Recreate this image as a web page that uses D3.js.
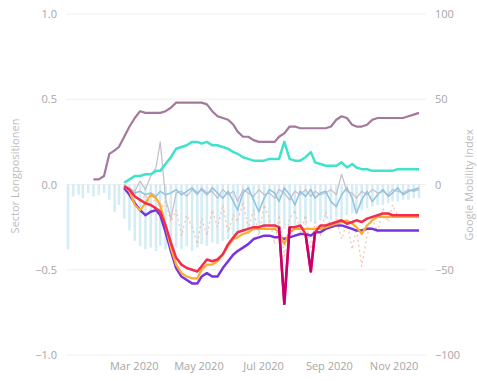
<!DOCTYPE html>
<html><head><meta charset="utf-8">
<script src="https://cdn.jsdelivr.net/npm/d3@7"></script>
<style>body{margin:0;background:#fff}svg{display:block}</style>
</head><body><svg id="c" width="477" height="381"></svg>
<script>
const dates = ["2019-12-30","2020-01-04","2020-01-09","2020-01-13","2020-01-18","2020-01-23","2020-01-28","2020-02-02","2020-02-07","2020-02-12",
"2020-02-16","2020-02-21","2020-02-26","2020-03-02","2020-03-07","2020-03-12","2020-03-17","2020-03-22","2020-03-26","2020-03-31",
"2020-04-05","2020-04-10","2020-04-15","2020-04-20","2020-04-25","2020-04-30","2020-05-04","2020-05-09","2020-05-14","2020-05-19",
"2020-05-24","2020-05-29","2020-06-03","2020-06-07","2020-06-12","2020-06-17","2020-06-22","2020-06-27","2020-07-02","2020-07-07",
"2020-07-12","2020-07-16","2020-07-21","2020-07-26","2020-07-31","2020-08-05","2020-08-10","2020-08-15","2020-08-19","2020-08-24",
"2020-08-29","2020-09-03","2020-09-08","2020-09-13","2020-09-18","2020-09-23","2020-09-27","2020-10-02","2020-10-07","2020-10-12",
"2020-10-17","2020-10-22","2020-10-27","2020-10-31","2020-11-05","2020-11-10","2020-11-15","2020-11-20","2020-11-25"];
const _ = null;
// left axis (sector long positions)
const barValues = [-0.38,-0.07,-0.06,-0.08,-0.05,-0.07,-0.06,-0.05,-0.09,-0.16,
-0.12,-0.2,-0.27,-0.33,-0.36,-0.38,-0.37,-0.39,-0.36,-0.38,
-0.4,-0.37,-0.38,-0.36,-0.39,-0.37,-0.35,-0.36,-0.34,-0.35,
-0.33,-0.32,-0.3,-0.3,-0.28,-0.29,-0.27,-0.28,-0.26,-0.25,
-0.27,-0.25,-0.26,-0.24,-0.25,-0.23,-0.24,-0.22,-0.23,-0.21,
-0.2,-0.21,-0.19,-0.2,-0.18,-0.17,-0.16,-0.15,-0.14,-0.13,
-0.12,-0.12,-0.11,-0.1,-0.1,-0.09,-0.09,-0.08,-0.08];
const steelValues = [_,_,_,_,_,_,_,_,_,_,
_,-0.01,-0.03,-0.05,-0.04,-0.06,-0.05,-0.07,-0.04,-0.06,
-0.05,-0.03,-0.06,-0.04,-0.02,-0.05,-0.03,-0.06,-0.02,-0.05,
-0.08,-0.04,-0.1,-0.15,-0.05,-0.02,-0.09,-0.16,-0.08,-0.03,
-0.05,-0.1,-0.02,-0.06,-0.12,-0.04,-0.07,-0.03,-0.08,-0.05,
-0.04,-0.1,-0.13,-0.06,-0.02,-0.08,-0.17,-0.09,-0.04,-0.1,
-0.06,-0.03,-0.07,-0.05,-0.02,-0.06,-0.04,-0.03,-0.02];
const greyValues = [_,_,_,_,_,_,_,_,_,_,
_,0.0,-0.02,-0.04,0.02,-0.03,0.05,0.1,0.25,-0.08,
-0.2,-0.05,-0.04,-0.07,-0.03,-0.06,-0.02,-0.05,-0.04,-0.08,
-0.03,-0.06,-0.04,-0.1,-0.03,-0.05,-0.07,-0.03,-0.06,-0.05,
-0.08,-0.03,-0.05,-0.09,-0.04,-0.06,-0.03,-0.07,-0.04,-0.06,
-0.05,-0.03,-0.06,0.06,-0.04,-0.05,-0.08,-0.04,-0.06,-0.03,
-0.05,-0.04,-0.06,-0.03,-0.04,-0.05,-0.03,-0.04,-0.03];
const paleOrangeValues = [_,_,_,_,_,_,_,_,_,_,
_,_,_,-0.05,-0.1,-0.06,-0.12,-0.08,-0.15,-0.1,
-0.22,-0.15,-0.3,-0.18,-0.25,-0.35,-0.2,-0.3,-0.15,-0.25,
-0.12,-0.28,-0.18,-0.22,-0.1,-0.26,-0.15,-0.3,-0.12,-0.2,
-0.35,-0.18,-0.42,-0.2,-0.15,-0.28,-0.18,-0.38,-0.22,-0.3,
-0.16,-0.25,-0.2,-0.32,-0.22,-0.38,-0.26,-0.48,-0.3,-0.2,
-0.28,-0.14,-0.22,-0.12,-0.18,_,_,_,_];
// right axis (Google Mobility Index)
const mauveValues = [_,_,_,_,_,3,3,5,18,20,
22,28,34,39,43,42,42,42,42,43,
45,48,48,48,48,48,48,47,43,40,
39,38,35,31,28,28,26,25,25,25,
25,28,30,34,34,33,33,33,33,33,
33,34,38,40,39,35,34,34,35,38,
39,39,39,39,39,39,40,41,42];
const cyanValues = [_,_,_,_,_,_,_,_,_,_,
_,1,3,5,5,6,6,8,8,12,
16,21,22,23,25,25,24,25,23,23,
22,21,19,18,16,15,14,14,14,15,
15,15,25,15,14,14,16,19,13,12,
11,11,11,13,10,12,10,9,9,8,
8,8,8,8,9,9,9,9,9];
const redValues = [_,_,_,_,_,_,_,_,_,_,
_,-1,-3,-7,-9,-11,-12,-14,-16,-24,
-34,-43,-47,-49,-50,-51,-48,-44,-45,-44,
-41,-35,-31,-28,-27,-26,-25,-25,-24,-24,
-24,-25,-70,-25,-25,-24,-29,-51,-28,-24,
-24,-23,-22,-21,-23,-22,-21,-22,-20,-19,
-18,-17,-17,-18,-18,-18,-18,-18,-18];
const magentaValues = [_,_,_,_,_,_,_,_,_,_,
_,_,_,_,_,_,_,_,_,_,
_,_,_,_,_,_,_,_,_,_,
_,_,_,_,_,_,_,_,_,_,
_,-25,-70,-25,_,_,-29,-51,-28,_,
_,_,_,_,_,_,_,_,_,_,
_,_,_,_,_,_,_,_,_];
const orangeValues = [_,_,_,_,_,_,_,_,_,_,
_,-1,-4,-12,-15,-11,-6,-8,-12,-24,
-37,-47,-52,-54,-55,-55,-50,-47,-47,-45,
-41,-36,-32,-31,-29,-28,-26,-26,-26,-26,
-26,-28,-35,-28,-26,-26,-26,-26,-26,-26,
-25,-24,-23,-22,-21,-23,-25,-29,-24,-21,
-19,-19,-19,-19,-19,-19,-19,-19,-19];
const purpleValues = [_,_,_,_,_,_,_,_,_,_,
_,-2,-6,-11,-15,-18,-16,-15,-18,-28,
-39,-49,-54,-56,-58,-58,-54,-52,-54,-54,
-49,-45,-41,-39,-37,-35,-32,-31,-30,-30,
-31,-31,-32,-31,-30,-29,-29,-30,-28,-28,
-26,-25,-24,-24,-25,-26,-27,-27,-26,-26,
-27,-27,-27,-27,-27,-27,-27,-27,-27];

const leftTicks = [1.0, 0.5, 0.0, -0.5, -1.0];
const rightTicks = [100, 50, 0, -50, -100];
const monthTicks = ["2020-03-01","2020-05-01","2020-07-01","2020-09-01","2020-11-01"];
const leftTitle = "Sector Longpositionen";
const rightTitle = "Google Mobility Index";

const parse = d3.timeParse("%Y-%m-%d");
const D = dates.map(parse);
const svg = d3.select("#c");
const font = "'Open Sans', 'Noto Sans', sans-serif";
const x = d3.scaleTime().domain([parse("2019-12-30"), parse("2020-11-25")]).range([68, 419]);
const yL = d3.scaleLinear().domain([-1, 1]).range([355, 14]);
const yR = d3.scaleLinear().domain([-100, 100]).range([355, 14]);

// gridlines
svg.append("g").selectAll("line").data(leftTicks).join("line")
  .attr("x1", 66).attr("x2", 426)
  .attr("y1", d => yL(d)).attr("y2", d => yL(d))
  .attr("stroke", "#efefef").attr("stroke-width", 1);

// left axis
const gL = svg.append("g").attr("transform", "translate(57,0)")
  .call(d3.axisLeft(yL).tickValues(leftTicks).tickFormat(d3.format(".1f")).tickSize(0).tickPadding(0));
gL.select(".domain").remove();
gL.selectAll("text").attr("fill", "#a6a6a6").style("font-family", font).style("font-size", "11px");

// right axis
const gR = svg.append("g").attr("transform", "translate(435,0)")
  .call(d3.axisRight(yR).tickValues(rightTicks).tickSize(0).tickPadding(0));
gR.select(".domain").remove();
gR.selectAll("text").attr("fill", "#a6a6a6").style("font-family", font).style("font-size", "11px");

// x axis
const gX = svg.append("g").attr("transform", "translate(0,362)")
  .call(d3.axisBottom(x).tickValues(monthTicks.map(parse)).tickFormat(d3.timeFormat("%b %Y")).tickSize(0).tickPadding(0));
gX.select(".domain").remove();
gX.selectAll("text").attr("fill", "#a6a6a6").style("font-family", font).style("font-size", "11px");

// axis titles
svg.append("text").attr("transform", "translate(19,176) rotate(-90)")
  .attr("text-anchor", "middle").attr("fill", "#bcbcbc")
  .style("font-family", font).style("font-size", "11px").text(leftTitle);
svg.append("text").attr("transform", "translate(473,185) rotate(-90)")
  .attr("text-anchor", "middle").attr("fill", "#bcbcbc")
  .style("font-family", font).style("font-size", "11px").text(rightTitle);

// bars
const bw = 2.5;
svg.append("g").selectAll("rect").data(D.map((d, i) => ({d, v: barValues[i]})).filter(o => o.v != null))
  .join("rect")
  .attr("x", o => x(o.d) - bw / 2).attr("width", bw)
  .attr("y", o => Math.min(yL(0), yL(o.v)))
  .attr("height", o => Math.abs(yL(o.v) - yL(0)))
  .attr("fill", "#d3ecf5");

function drawLine(vals, scale, color, width, dash, opacity) {
  const line = d3.line().defined(p => p.v != null).x(p => x(p.d)).y(p => scale(p.v));
  svg.append("path").datum(D.map((d, i) => ({d, v: vals[i]})))
    .attr("d", line).attr("fill", "none").attr("stroke", color)
    .attr("stroke-width", width).attr("stroke-linejoin", "round")
    .attr("stroke-dasharray", dash || null).attr("opacity", opacity || 1);
}
drawLine(paleOrangeValues, yL, "#f6b99c", 1.2, "2,3", 0.9);
drawLine(greyValues, yL, "#c6bccb", 1.2);
drawLine(steelValues, yL, "#93c4df", 1.6);
drawLine(mauveValues, yR, "#a4789c", 2.2);
drawLine(cyanValues, yR, "#3fe3cb", 2.5);
drawLine(purpleValues, yR, "#7434de", 2.5);
drawLine(orangeValues, yR, "#ffab2e", 2.2);
drawLine(redValues, yR, "#f52d4c", 2.5);
drawLine(magentaValues, yR, "#c8006e", 2.5);
</script></body></html>
